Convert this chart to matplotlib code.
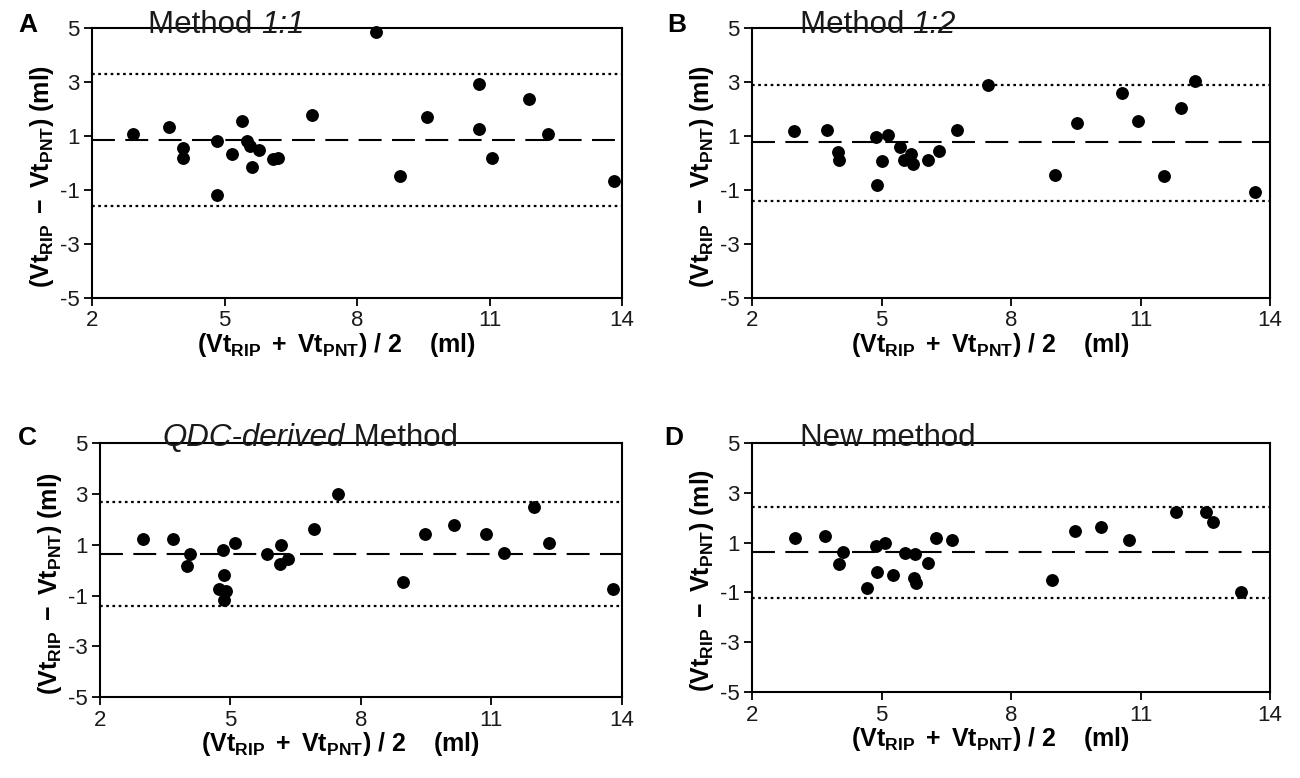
import matplotlib
matplotlib.use("Agg")
import matplotlib.pyplot as plt

plt.rcParams["font.family"] = "Liberation Sans"
plt.rcParams["mathtext.fontset"] = "custom"
plt.rcParams["mathtext.rm"] = "Liberation Sans"
plt.rcParams["mathtext.bf"] = "Liberation Sans:bold"
plt.rcParams["mathtext.it"] = "Liberation Sans:italic"
plt.rcParams["axes.unicode_minus"] = False

# mean of the two volumes (x) and their difference (y)
a_mean = [2.93, 3.75, 4.06, 4.06, 4.84, 4.84, 5.17, 5.39, 5.51, 5.57, 5.77, 5.63,
          6.09, 6.22, 6.97, 8.42, 8.98, 9.59, 10.76, 10.76, 11.05, 11.89, 12.32, 13.81]
a_diff = [1.09, 1.33, 0.56, 0.20, 0.83, -1.20, 0.33, 1.57, 0.83, 0.64, 0.47, -0.16,
          0.13, 0.20, 1.76, 4.84, -0.47, 1.69, 2.93, 1.27, 0.20, 2.37, 1.09, -0.67]
a_lines = [3.3, 0.87, -1.6]

b_mean = [2.97, 3.73, 3.98, 4.02, 4.88, 5.14, 5.02, 4.90, 5.43, 5.52, 5.68, 5.72,
          6.07, 6.32, 6.75, 7.46, 9.02, 9.53, 10.58, 10.94, 11.54, 11.93, 12.26, 13.65]
b_diff = [1.17, 1.24, 0.40, 0.10, 0.97, 1.04, 0.07, -0.82, 0.61, 0.10, 0.33, -0.03,
          0.10, 0.44, 1.24, 2.89, -0.44, 1.48, 2.58, 1.54, -0.50, 2.05, 3.03, -1.07]
b_lines = [2.89, 0.77, -1.40]

c_mean = [2.98, 3.67, 4.08, 4.00, 4.82, 5.11, 4.86, 4.73, 4.90, 4.86, 5.83, 6.17,
          6.13, 6.32, 6.92, 7.48, 8.97, 9.47, 10.15, 10.88, 11.28, 11.98, 12.32, 13.79]
c_diff = [1.24, 1.24, 0.66, 0.17, 0.81, 1.08, -0.17, -0.73, -0.80, -1.17, 0.63, 1.01,
          0.23, 0.44, 1.63, 2.99, -0.48, 1.44, 1.80, 1.44, 0.70, 2.49, 1.08, -0.73]
c_lines = [2.70, 0.66, -1.39]

d_mean = [2.99, 3.68, 4.10, 4.01, 4.67, 4.88, 5.08, 4.89, 5.27, 5.55, 5.78, 5.74,
          5.80, 6.07, 6.27, 6.64, 8.94, 9.48, 10.08, 10.73, 11.82, 12.52, 12.67, 13.32]
d_diff = [1.18, 1.25, 0.63, 0.14, -0.81, 0.86, 1.00, -0.17, -0.31, 0.60, 0.53, -0.42,
          -0.63, 0.18, 1.18, 1.11, -0.49, 1.46, 1.64, 1.11, 2.22, 2.25, 1.83, -0.97]
d_lines = [2.43, 0.625, -1.22]

x_ticks = [2, 5, 8, 11, 14]
y_ticks = [-5, -3, -1, 1, 3, 5]

panels = [
    ("A", [("Method ", "normal"), ("1:1", "italic")], a_mean, a_diff, a_lines,
     [0.0708, 0.617, 0.4077, 0.347], (0.014, 0.959), (0.114, 0.958)),
    ("B", [("Method ", "normal"), ("1:2", "italic")], b_mean, b_diff, b_lines,
     [0.5785, 0.617, 0.3985, 0.347], (0.513, 0.959), (0.615, 0.958)),
    ("C", [("QDC-derived", "italic"), (" Method", "normal")], c_mean, c_diff, c_lines,
     [0.0769, 0.104, 0.4015, 0.326], (0.014, 0.428), (0.125, 0.427)),
    ("D", [("New method", "normal")], d_mean, d_diff, d_lines,
     [0.5785, 0.1105, 0.3985, 0.320], (0.511, 0.428), (0.615, 0.427)),
]

fig = plt.figure(figsize=(13, 7.78), dpi=100)
renderer = fig.canvas.get_renderer()
W, H = 1300, 778


def rich_title(x, y, parts):
    """Draw a title made of plain and italic pieces side by side."""
    for s, style in parts:
        t = fig.text(x, y, s, fontsize=22.5, style=style, color="#1a1a1a",
                     va="baseline", ha="left")
        x += t.get_window_extent(renderer=renderer).width / fig.bbox.width


for letter, title, xs, ys, lines, rect, lpos, tpos in panels:
    ax = fig.add_axes(rect)
    upper, mean, lower = lines
    ax.axhline(upper, color="black", lw=1.6, ls=(0, (1.2, 1.6)))
    ax.axhline(lower, color="black", lw=1.6, ls=(0, (1.2, 1.6)))
    ax.axhline(mean, color="black", lw=1.5, ls=(0, (11, 5)))
    ax.scatter(xs, ys, s=68, color="black", zorder=3, clip_on=False)

    ax.set_xlim(2, 14)
    ax.set_ylim(-5, 5)
    ax.set_xticks(x_ticks)
    ax.set_yticks(y_ticks)
    ax.tick_params(direction="out", length=6, width=1.3, labelsize=16,
                   labelcolor="#1a1a1a", pad=3)
    for sp in ax.spines.values():
        sp.set_linewidth(1.5)

    w_px = rect[2] * W
    h_px = rect[3] * H
    ax.set_ylabel(r"$\mathbf{(Vt_{RIP}\ -\ Vt_{PNT})\ (ml)}$", fontsize=18)
    ax.yaxis.set_label_coords(-36 / w_px, 0.45)
    ax.set_xlabel(r"$\mathbf{(Vt_{RIP}\ +\ Vt_{PNT})\ /\ 2\quad\ (ml)}$", fontsize=18)
    ax.xaxis.set_label_coords(0.46, -33 / h_px)

    fig.text(lpos[0], lpos[1], letter, fontsize=19, fontweight="bold",
             va="baseline", ha="left")
    rich_title(tpos[0], tpos[1], title)

fig.savefig("out.png", dpi=100)
